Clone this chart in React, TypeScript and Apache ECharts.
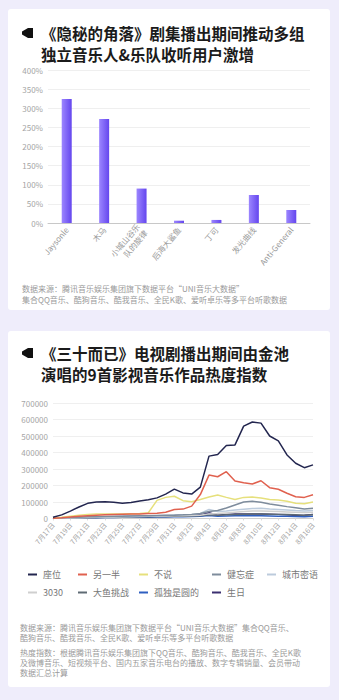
import React, { useEffect, useRef } from 'react';
import * as echarts from 'echarts';

// ---------- Chart 1: bar ----------
const barCategories = ['Jaysonle', '木马', '小城山谷乐\n队的旋律', '后海大鲨鱼', '丁可', '发光曲线', 'Anti-General'];
const barValues = [324, 272, 90, 6, 8, 73, 34];
const barAxisMax = 400;
const barAxisStep = 50;

// ---------- Chart 2: lines ----------
const dates = [
  '7月17日', '7月18日', '7月19日', '7月20日', '7月21日', '7月22日', '7月23日', '7月24日',
  '7月25日', '7月26日', '7月27日', '7月28日', '7月29日', '7月30日', '7月31日', '8月1日',
  '8月2日', '8月3日', '8月4日', '8月5日', '8月6日', '8月7日', '8月8日', '8月9日',
  '8月10日', '8月11日', '8月12日', '8月13日', '8月14日', '8月15日', '8月16日',
];
const lineAxisMax = 700000;
const lineAxisStep = 100000;

const zuowei = [8000, 22000, 45000, 70000, 92000, 100000, 102000, 98000, 93000, 97000, 106000, 114000, 125000, 148000, 178000, 155000, 148000, 190000, 378000, 388000, 442000, 446000, 560000, 585000, 578000, 500000, 470000, 385000, 335000, 308000, 325000];
const lingyiban = [2000, 5000, 9000, 13000, 17000, 20000, 22000, 24000, 26000, 27000, 28000, 30000, 32000, 38000, 55000, 57000, 75000, 145000, 263000, 253000, 284000, 227000, 217000, 209000, 229000, 187000, 177000, 153000, 132000, 128000, 144000];
const bushuo = [3000, 8000, 14000, 20000, 25000, 28000, 28000, 28000, 28000, 29000, 30000, 35000, 110000, 128000, 135000, 108000, 102000, 115000, 130000, 142000, 128000, 115000, 128000, 130000, 124000, 115000, 112000, 104000, 93000, 90000, 100000];
const jianwangzheng = [2000, 4000, 6000, 8000, 10000, 11000, 12000, 13000, 14000, 15000, 16000, 17000, 18000, 19000, 20000, 22000, 25000, 30000, 42000, 48000, 64000, 82000, 100000, 105000, 98000, 88000, 80000, 72000, 65000, 57000, 62000];
const chengshimiyu = [1000, 2000, 4000, 6000, 8000, 9000, 10000, 11000, 12000, 13000, 14000, 15000, 16000, 18000, 20000, 22000, 25000, 30000, 55000, 42000, 45000, 52000, 56000, 60000, 62000, 58000, 55000, 52000, 48000, 45000, 48000];
const s3030 = [1000, 2000, 3000, 5000, 6000, 7000, 8000, 9000, 10000, 11000, 12000, 13000, 14000, 15000, 16000, 17000, 18000, 20000, 28000, 30000, 34000, 38000, 42000, 45000, 46000, 44000, 42000, 40000, 38000, 36000, 38000];
const dayutiaozhan = [1000, 2000, 3000, 4000, 5000, 6000, 7000, 8000, 9000, 10000, 10000, 11000, 12000, 12000, 13000, 14000, 15000, 17000, 22000, 20000, 22000, 24000, 26000, 27000, 27000, 26000, 25000, 24000, 22000, 20000, 22000];
const guduyuan = [1000, 2000, 3000, 4000, 5000, 5000, 6000, 6000, 7000, 7000, 8000, 8000, 9000, 9000, 10000, 11000, 12000, 14000, 18000, 14000, 15000, 16000, 17000, 17000, 16000, 15000, 14000, 13000, 12000, 11000, 13000];
const shengri = [1000, 2000, 4000, 6000, 8000, 9000, 10000, 11000, 12000, 13000, 14000, 15000, 16000, 17000, 18000, 20000, 21000, 22000, 35000, 20000, 25000, 27000, 28000, 28000, 27000, 26000, 25000, 22000, 18000, 20000, 25000];

const lineNames = ['座位', '另一半', '不说', '健忘症', '城市密语', '3030', '大鱼挑战', '孤独是圆的', '生日'];
const lineData = [zuowei, lingyiban, bushuo, jianwangzheng, chengshimiyu, s3030, dayutiaozhan, guduyuan, shengri];
const lineColors = ['#23264f', '#e0614f', '#e6e07c', '#7e8c9c', '#bccbdc', '#cfcfcf', '#5f6b74', '#2f5fc0', '#3b2f70'];
const legendPos = [
  [28, 570], [78, 570], [139, 570], [212, 570], [267, 570],
  [28, 588], [78, 588], [139, 588], [212, 588],
];

const FONT = '"Noto Sans CJK SC", "Noto Sans", sans-serif';

export default function App() {
  const ref = useRef<HTMLDivElement>(null);

  useEffect(() => {
    if (!ref.current) return;
    const chart = echarts.init(ref.current, undefined, { renderer: 'svg' });

    const titleStyle = (text: string) => ({
      text,
      fontSize: 15.5,
      fontWeight: 'bold',
      fontFamily: FONT,
      fill: '#1b1b1b',
      verticalAlign: 'middle',
    });
    const noteStyle = (text: string) => ({
      text,
      fontSize: 8,
      fontFamily: FONT,
      fill: '#9a9a9a',
      verticalAlign: 'middle',
    });

    const icon = (y: number) => ({
      type: 'polygon',
      shape: { points: [[22, y - 1.5], [28, y - 5], [33, y - 5], [33, y + 5], [28, y + 5], [22, y + 1.5]] },
      style: { fill: '#111' },
    });

    const option: any = {
      animation: false,
      backgroundColor: '#efedfb',
      textStyle: { fontFamily: FONT },
      graphic: [
        { type: 'rect', z: -10, shape: { x: 8, y: 9, width: 322, height: 301, r: 3 }, style: { fill: '#ffffff' } },
        { type: 'rect', z: -10, shape: { x: 8, y: 331, width: 322, height: 356, r: 3 }, style: { fill: '#ffffff' } },
        icon(33),
        { type: 'text', x: 41, y: 33, style: titleStyle('《隐秘的角落》剧集播出期间推动多组') },
        { type: 'text', x: 41, y: 54, style: titleStyle('独立音乐人&乐队收听用户激增') },
        { type: 'text', x: 22, y: 288, style: noteStyle('数据来源：腾讯音乐娱乐集团旗下数据平台“UNI音乐大数据”') },
        { type: 'text', x: 22, y: 299, style: noteStyle('集合QQ音乐、酷狗音乐、酷我音乐、全民K歌、爱听卓乐等多平台听歌数据') },
        icon(353),
        { type: 'text', x: 41, y: 353, style: titleStyle('《三十而已》电视剧播出期间由金池') },
        { type: 'text', x: 41, y: 374, style: titleStyle('演唱的9首影视音乐作品热度指数') },
        { type: 'text', x: 20, y: 627, style: noteStyle('数据来源：腾讯音乐娱乐集团旗下数据平台“UNI音乐大数据”集合QQ音乐、') },
        { type: 'text', x: 20, y: 637, style: noteStyle('酷狗音乐、酷我音乐、全民K歌、爱听卓乐等多平台听歌数据') },
        { type: 'text', x: 20, y: 652, style: noteStyle('热度指数：根据腾讯音乐娱乐集团旗下QQ音乐、酷狗音乐、酷我音乐、全民K歌') },
        { type: 'text', x: 20, y: 662, style: noteStyle('及微博音乐、短视频平台、国内五家音乐电台的播放、数字专辑销量、会员带动') },
        { type: 'text', x: 20, y: 672, style: noteStyle('数据汇总计算') },
      ],
      legend: lineNames.map((n, i) => ({
        data: [n],
        left: legendPos[i][0],
        top: legendPos[i][1],
        padding: 0,
        icon: 'rect',
        itemWidth: 9,
        itemHeight: 2,
        itemGap: 0,
        selectedMode: false,
        textStyle: { fontSize: 9, color: '#777', fontFamily: FONT, padding: [0, 0, 0, 1] },
      })),
      grid: [
        { left: 48, right: 29, top: 70, bottom: 477 },
        { left: 53, right: 26, top: 403, bottom: 181.5 },
      ],
      xAxis: [
        {
          type: 'category',
          gridIndex: 0,
          data: barCategories,
          axisLine: { lineStyle: { color: '#c8c8c8' } },
          axisTick: { show: false },
          axisLabel: { interval: 0, rotate: 50, fontSize: 8, color: '#9a9a9a', margin: 5, lineHeight: 10 },
        },
        {
          type: 'category',
          gridIndex: 1,
          data: dates,
          boundaryGap: false,
          axisLine: { lineStyle: { color: '#cfcfcf' } },
          axisTick: { show: true, interval: 1, length: 2, lineStyle: { color: '#dcdcdc' } },
          axisLabel: { interval: 1, rotate: 50, fontSize: 7, color: '#a5a5a5', margin: 5 },
        },
      ],
      yAxis: [
        {
          type: 'value',
          gridIndex: 0,
          min: 0,
          max: barAxisMax,
          interval: barAxisStep,
          axisLabel: { formatter: '{value}%', fontSize: 8, color: '#a5a5a5', margin: 5 },
          splitLine: { lineStyle: { color: '#efefef' } },
          axisLine: { show: false },
          axisTick: { show: false },
        },
        {
          type: 'value',
          gridIndex: 1,
          min: 0,
          max: lineAxisMax,
          interval: lineAxisStep,
          axisLabel: { formatter: (v: number) => String(v), fontSize: 8, color: '#a5a5a5', margin: 5 },
          splitLine: { lineStyle: { color: '#efefef' } },
          axisLine: { show: false },
          axisTick: { show: false },
        },
      ],
      series: [
        {
          type: 'bar',
          xAxisIndex: 0,
          yAxisIndex: 0,
          data: barValues,
          barWidth: 10,
          itemStyle: {
            color: new echarts.graphic.LinearGradient(0, 0, 1, 0, [
              { offset: 0, color: '#9c86ff' },
              { offset: 1, color: '#6446ee' },
            ]),
          },
        },
        ...lineNames.map((n, i) => ({
          type: 'line',
          name: n,
          xAxisIndex: 1,
          yAxisIndex: 1,
          data: lineData[i],
          symbol: 'none',
          lineStyle: { width: 1.5, color: lineColors[i] },
          itemStyle: { color: lineColors[i] },
          z: 2 + (lineNames.length - i) * 0.01,
        })),
      ],
    };

    chart.setOption(option);
    return () => chart.dispose();
  }, []);

  return <div ref={ref} style={{ position: 'fixed', left: 0, top: 0, width: 339, height: 700 }} />;
}
